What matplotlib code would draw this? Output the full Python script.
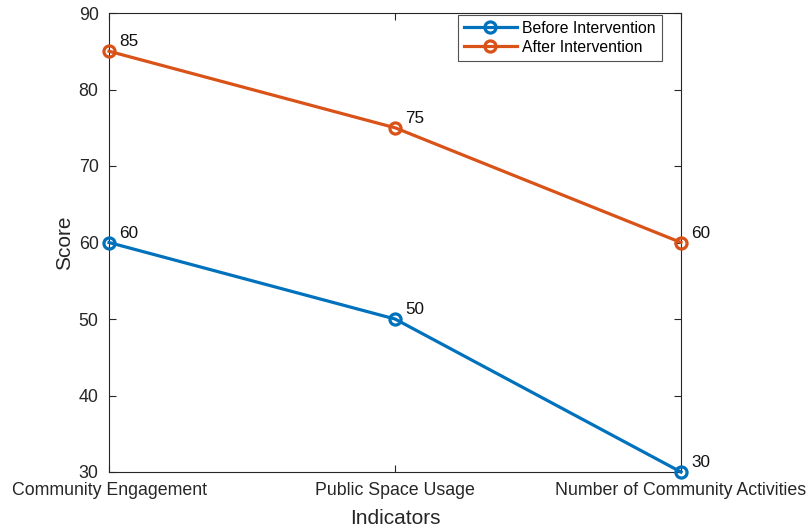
import matplotlib
matplotlib.use("Agg")
import matplotlib.pyplot as plt

categories = ["Community Engagement", "Public Space Usage", "Number of Community Activities"]
before = [60, 50, 30]
after = [85, 75, 60]
yticks = [30, 40, 50, 60, 70, 80, 90]

plt.rcParams['font.family'] = ['Liberation Sans', 'DejaVu Sans']

fig = plt.figure(figsize=(8.08, 5.32), dpi=100)
ax = fig.add_axes([109/808, 60/532, (681-109)/808, (472-13)/532])

x = list(range(len(categories)))
c1 = '#0072BD'
c2 = '#D95319'
ax.plot(x, before, '-o', color=c1, lw=2.3, ms=8, mfc='none', mew=2.3, label='Before Intervention', clip_on=False, zorder=3)
ax.plot(x, after, '-o', color=c2, lw=2.3, ms=8, mfc='none', mew=2.3, label='After Intervention', clip_on=False, zorder=3)

for xi, v in zip(x, before):
    ax.annotate(str(v), (xi, v), xytext=(7.5, 3.5), textcoords='offset points', fontsize=12.3, color='#111111', va='baseline', ha='left')
for xi, v in zip(x, after):
    ax.annotate(str(v), (xi, v), xytext=(7.5, 3.5), textcoords='offset points', fontsize=12.3, color='#111111', va='baseline', ha='left')

ax.set_xlim(0, 2)
ax.set_ylim(30, 90)
ax.set_xticks(x)
ax.set_xticklabels(categories)
ax.set_yticks(yticks)
ax.tick_params(direction='in', top=True, right=True, labelsize=12.8, colors='#262626', length=5, width=0.8, pad=7.5)
for s in ax.spines.values():
    s.set_color('#262626')
    s.set_linewidth(0.8)
ax.set_xlabel('Indicators', fontsize=15, color='#262626', labelpad=7)
ax.set_ylabel('Score', fontsize=15, color='#262626', labelpad=3)

leg = ax.legend(loc='upper right', bbox_to_anchor=(662/808, 1 - 15/532), bbox_transform=fig.transFigure,
                fontsize=11.3, frameon=True, fancybox=False, edgecolor='#262626',
                borderaxespad=0.0, handlelength=3.4, handletextpad=0.35, borderpad=0.38, labelspacing=0.25)
leg.get_frame().set_linewidth(0.8)

fig.savefig('out.png', dpi=100)
